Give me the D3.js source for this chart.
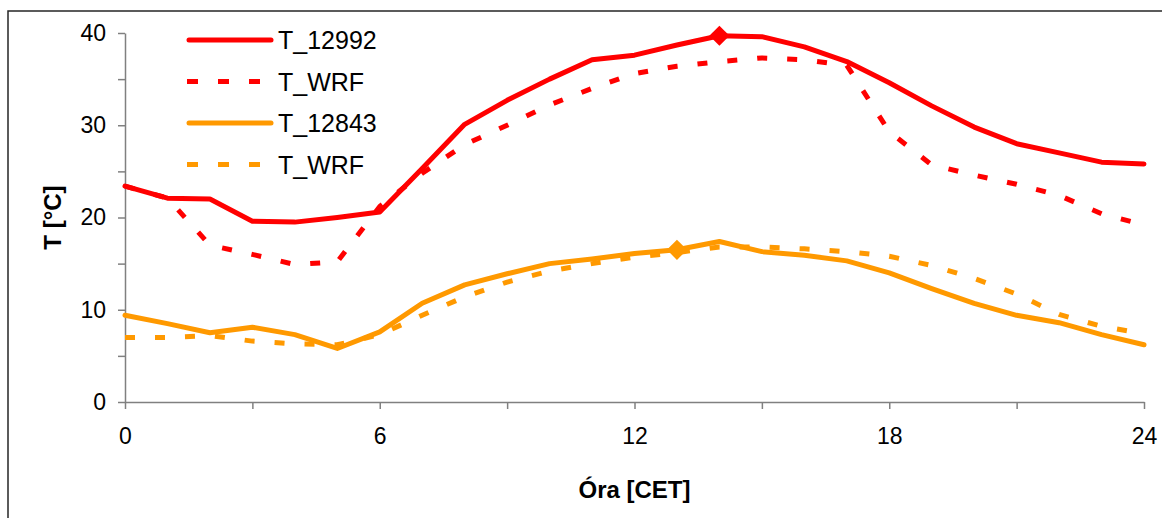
<!DOCTYPE html>
<html>
<head>
<meta charset="utf-8">
<script src="https://cdn.jsdelivr.net/npm/d3@7/dist/d3.min.js"></script>
<style>
    body { margin: 0; background: #fff; }
    text { font-family: Arial, "Liberation Sans", sans-serif; }
</style>
</head>
<body>
<div id="chart"></div>
<script>
// hours of the day (CET)
var hours = [0, 1, 2, 3, 4, 5, 6, 7, 8, 9, 10, 11, 12, 13, 14, 15, 16, 17, 18, 19, 20, 21, 22, 23, 24];

// measured and modelled temperatures
var t12992 = [23.4, 22.1, 22.0, 19.6, 19.5, 20.0, 20.6, 25.3, 30.1, 32.7, 35.0, 37.1, 37.6, 38.7, 39.7, 39.6, 38.5, 36.9, 34.6, 32.1, 29.8, 28.0, 27.0, 26.0, 25.8];
var tWrfRed = [23.4, 22.1, 17.0, 16.0, 14.9, 15.2, 21.2, 24.8, 27.9, 30.0, 32.2, 34.0, 35.6, 36.4, 36.9, 37.3, 37.1, 36.5, 29.3, 25.7, 24.6, 23.6, 22.4, 20.4, 19.2];
var t12843 = [9.4, 8.5, 7.5, 8.1, 7.3, 5.8, 7.6, 10.7, 12.7, 13.9, 15.0, 15.5, 16.1, 16.5, 17.4, 16.3, 15.9, 15.3, 14.0, 12.3, 10.7, 9.4, 8.6, 7.3, 6.2];
var tWrfOrange = [7.0, 7.0, 7.2, 6.6, 6.3, 6.2, 7.3, 9.4, 11.4, 13.0, 14.2, 15.0, 15.7, 16.2, 16.8, 16.8, 16.6, 16.3, 15.8, 14.8, 13.4, 11.7, 9.5, 8.2, 7.4];

// highlighted maximum points [hour, value]
var maxRed = [14, 39.7];
var maxOrange = [13, 16.5];

var xTicks = [0, 3, 6, 9, 12, 15, 18, 21, 24];
var yTicks = [0, 5, 10, 15, 20, 25, 30, 35, 40];

var legendNames = ["T_12992", "T_WRF", "T_12843", "T_WRF"];

var v = 1162,
    h = 518,
    margin = {
        top: 33,
        bottom: 116,
        left: 125,
        right: 18
    };

var red = "#ff0000",
    orange = "#ff9900";

var svg = d3.select("#chart").append("svg")
    .attr("width", v)
    .attr("height", h);

// outer frame
svg.append("rect")
    .attr("x", 8)
    .attr("y", 11)
    .attr("width", v)
    .attr("height", h)
    .style("fill", "none")
    .style("stroke", "#262626")
    .style("stroke-width", 1.5);

var x = d3.scaleLinear()
    .domain([0, 24])
    .range([margin.left, v - margin.right]);
var y = d3.scaleLinear()
    .domain([0, 40])
    .range([h - margin.bottom, margin.top]);

var xAxis = d3.axisBottom(x)
    .tickValues(xTicks)
    .tickSize(7)
    .tickSizeOuter(0)
    .tickPadding(19)
    .tickFormat(function (d) { return d % 6 === 0 ? d : ""; });
var yAxis = d3.axisLeft(y)
    .tickValues(yTicks)
    .tickSize(7)
    .tickSizeOuter(0)
    .tickPadding(12)
    .tickFormat(function (d) { return d % 10 === 0 ? d : ""; });

function styleAxis(g) {
    g.select(".domain").style("stroke", "#808080").style("stroke-width", 1.5);
    g.selectAll(".tick line").style("stroke", "#808080").style("stroke-width", 1.5);
    g.selectAll(".tick text")
        .style("font-size", "23px")
        .style("fill", "#000")
        .style("font-family", "Arial, 'Liberation Sans', sans-serif");
}

svg.append("g")
    .attr("transform", "translate(0," + y(0) + ")")
    .call(xAxis)
    .call(styleAxis);

svg.append("g")
    .attr("transform", "translate(" + x(0) + ",0)")
    .call(yAxis)
    .call(styleAxis);

// axis titles
svg.append("text")
    .attr("x", (x(0) + x(24)) / 2)
    .attr("y", 498)
    .style("text-anchor", "middle")
    .style("font-weight", "bold")
    .style("font-size", "24px")
    .text("Óra [CET]");

svg.append("text")
    .attr("transform", "translate(61," + y(20) + ") rotate(-90)")
    .style("text-anchor", "middle")
    .style("font-weight", "bold")
    .style("font-size", "24px")
    .text("T [°C]");

var line = d3.line()
    .x(function (d, i) { return x(hours[i]); })
    .y(function (d) { return y(d); });

var series = [
    { values: t12992, color: red, dash: null },
    { values: tWrfRed, color: red, dash: "10,20" },
    { values: t12843, color: orange, dash: null },
    { values: tWrfOrange, color: orange, dash: "10,20" }
];

series.forEach(function (s) {
    svg.append("path")
        .datum(s.values)
        .attr("d", line)
        .style("fill", "none")
        .style("stroke", s.color)
        .style("stroke-width", 5)
        .style("stroke-linejoin", "round")
        .style("stroke-linecap", s.dash ? "butt" : "round")
        .style("stroke-dasharray", s.dash);
});

// diamond markers on the maxima
var diamond = d3.symbol().type(d3.symbolDiamond2).size(260);
[[maxRed, red], [maxOrange, orange]].forEach(function (m) {
    svg.append("path")
        .attr("d", diamond)
        .attr("transform", "translate(" + x(m[0][0]) + "," + y(m[0][1]) + ")")
        .style("fill", m[1]);
});

// legend
var legend = svg.append("g").attr("transform", "translate(187,40)");
series.forEach(function (s, i) {
    var g = legend.append("g").attr("transform", "translate(0," + (i * 41.5) + ")");
    g.append("line")
        .attr("x1", s.dash ? 0 : 2)
        .attr("x2", s.dash ? 86 : 84)
        .attr("y1", 0)
        .attr("y2", 0)
        .style("stroke", s.color)
        .style("stroke-width", 5)
        .style("stroke-linecap", s.dash ? "butt" : "round")
        .style("stroke-dasharray", s.dash ? "11,20" : null);
    g.append("text")
        .attr("x", 91)
        .attr("y", 0)
        .attr("dy", "0.36em")
        .style("font-size", "25px")
        .text(legendNames[i]);
});
</script>
</body>
</html>
